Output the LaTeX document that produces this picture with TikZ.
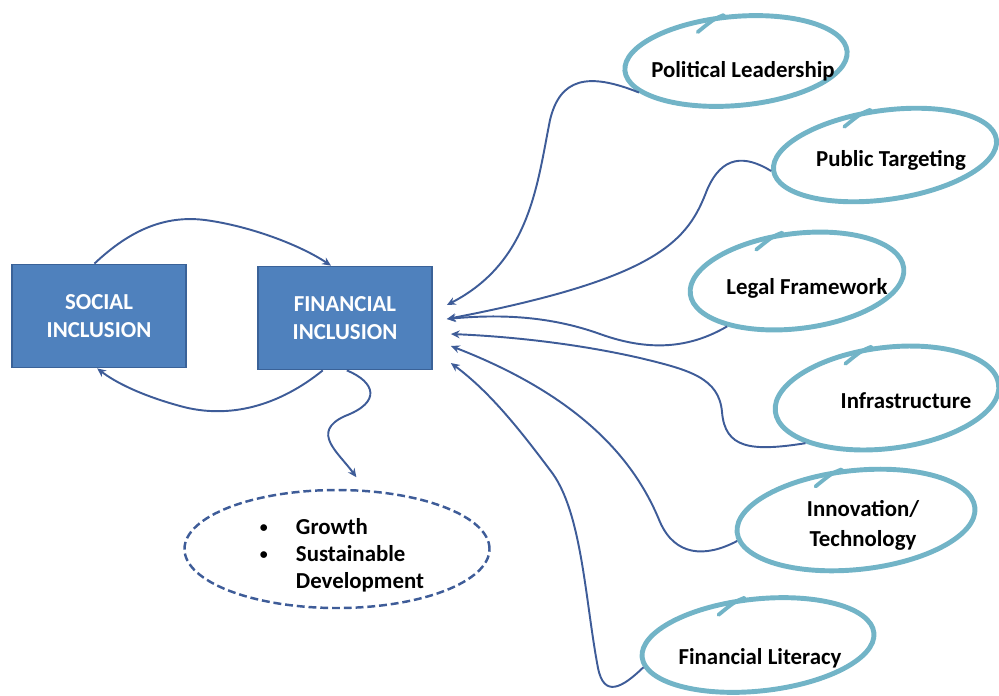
\documentclass[tikz,border=0pt]{standalone}
\usepackage{fontspec}
\setmainfont{Carlito}
\usetikzlibrary{arrows.meta, shapes.geometric, positioning}
\definecolor{fiblue}{RGB}{79,129,189}
\definecolor{fiedge}{RGB}{58,98,152}
\definecolor{fiarrow}{RGB}{62,92,152}
\definecolor{fiteal}{RGB}{114,180,199}
\newcommand{\fidot}{\raisebox{1.2pt}{\fontsize{9}{9}\selectfont\textbullet}}

\begin{document}
\begin{tikzpicture}[x=0.2mm, y=-0.2mm,
  box/.style={draw=fiedge, line width=1pt, fill=fiblue,
              minimum width=34.8mm, minimum height=20.6mm,
              text=white, font=\fontsize{13}{16}\selectfont\bfseries, align=center},
  halo/.style={ellipse, draw=fiteal, line width=2.8pt, inner sep=0pt},
  hook/.style={draw=fiteal, line width=2.2pt, line cap=round},
  goal/.style={ellipse, draw=fiarrow, dashed, line width=1.4pt,
               dash pattern=on 4.5pt off 2.2pt,
               minimum width=61mm, minimum height=23.6mm},
  lbl/.style={font=\fontsize{13}{17}\selectfont\bfseries, align=center},
  arr/.style={-{Stealth[length=5pt, width=4.5pt]}, line width=1.1pt, fiarrow}
]
  \useasboundingbox (0,0) rectangle (999,695);

  %% Inclusion boxes
  \node[box] (soc) at (99,316)  {SOCIAL\\INCLUSION};
  \node[box] (fin) at (345,318) {FINANCIAL\\INCLUSION};

  %% Outcome ellipse
  \node[goal] (out) at (337,549) {};
  \node[font=\fontsize{13}{15.5}\selectfont\bfseries] (outtxt) at (342,556)
    {\begin{tabular}{@{}l@{\hspace{16pt}}l@{}}
       \fidot & Growth\\
       \fidot & Sustainable\\
              & Development
     \end{tabular}};

  %% Driver loops
  \foreach \n/\x/\y/\w/\h/\r in {pole/736/61/44.6/17.8/5, pube/885/155/45/17.8/8,
                                 lege/797/281/43/19/7, infe/887/398/45/20.2/7,
                                 inne/856/520/47.8/19.8/6, fine/758/645/46.6/18.4/6}{
    \node[halo, minimum width=\w mm, minimum height=\h mm, rotate=\r] (\n) at (\x,\y) {};
    \draw[hook] (\n.100) .. controls +(-10,4) .. +(-26,17);
  }
  \node[lbl] (pol) at (743,71)  {Political Leadership};
  \node[lbl] (pub) at (891,160) {Public Targeting};
  \node[lbl] (leg) at (807,288) {Legal Framework};
  \node[lbl] (inf) at (906,401) {Infrastructure};
  \node[lbl] (inn) at (863,525) {Innovation/\\Technology};
  \node[lbl] (lit) at (760,658) {Financial Literacy};

  %% Arrow tips beside the financial box
  \foreach \i/\dx/\dy in {1/14/-13, 2/14/1, 3/18/16, 4/18/28, 5/18/45}{
    \coordinate (t\i) at ([shift={(\dx,\dy)}]fin.east);
  }

  %% Loop between the two boxes
  \draw[arr] (soc.95) .. controls (130,230) and (165,215) .. (205,220)
             .. controls (250,226) and (300,245) .. (fin.105);
  \draw[arr] (fin.247) .. controls (280,405) and (230,420) .. (180,406)
             .. controls (140,395) and (115,382) .. (soc.268);
  %% Towards growth
  \draw[arr] (fin.272) .. controls (375,382) and (382,402) .. (345,416)
             .. controls (310,432) and (338,452) .. ([shift={(0,-12)}]out.72);

  %% Drivers into financial inclusion
  \draw[arr] (pole.193) .. controls (588,72) and (560,78) .. (550,120)
             .. controls (537,185) and (530,262) .. (t1);
  \draw[arr] (pube.180) .. controls (745,155) and (722,155) .. (707,190)
             .. controls (688,240) and (660,278) .. (t2);
  \draw[arr] (lege.206) .. controls (690,348) and (650,352) .. (600,334)
             .. controls (550,316) and (500,314) .. (t2);
  \draw[arr] (infe.202) .. controls (750,452) and (725,448) .. (722,412)
             .. controls (719,378) and (690,370) .. (640,358)
             .. controls (570,342) and (500,336) .. (t3);
  \draw[arr] (inne.184) .. controls (705,558) and (675,556) .. (660,522)
             .. controls (638,468) and (590,400) .. (t4);
  \draw[arr] (fine.185) .. controls (622,688) and (604,698) .. (598,668)
             .. controls (585,600) and (582,510) .. (550,470)
             .. controls (520,430) and (490,392) .. (t5);
\end{tikzpicture}
\end{document}
